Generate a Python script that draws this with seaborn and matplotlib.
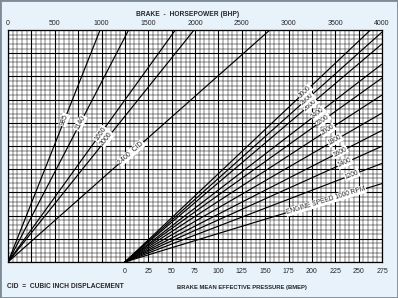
import numpy as np
import pandas as pd
import matplotlib
matplotlib.use("Agg")
import matplotlib.pyplot as plt
import seaborn as sns
from matplotlib.ticker import MultipleLocator, FuncFormatter
from matplotlib.patches import Rectangle

# ---------------- data ----------------
bhp_ticks = [0, 500, 1000, 1500, 2000, 2500, 3000, 3500, 4000]
bmep_ticks = [0, 25, 50, 75, 100, 125, 150, 175, 200, 225, 250, 275]

cid_values = [985, 1140, 1650, 2000, 2400]
cid_labels = ["985", "1140", "1650", "2000", "2400  CID"]
cid_top_bhp = [985, 1290, 1790, 1990, 2800]          # BHP where each CID line meets the top edge

rpm_values = [1000, 1200, 1400, 1600, 1800, 2000, 2200, 2400, 2600, 2800, 3000]
rpm_labels = ["ENGINE SPEED 1000 RPM", "1200", "1400", "1600", "1800", "2000",
              "2200", "2400", "2600", "2800", "3000"]
rpm_edge_y = [3.38, 4.25, 4.99, 5.67, 6.42, 7.20, 7.93, 8.53, 9.40, 9.91, 10.47]  # grid height at BMEP 275

# ---------------- layout constants ----------------
Y_TOP = 10.0
BMEP_ZERO_BHP = 1250.0     # BMEP 0 sits under BHP 1250
BHP_PER_BMEP = 10.0
cid_label_y = [6.12, 5.99, 5.52, 5.30, 4.70]
rpm_label_x = [3400, 3679, 3604, 3551, 3497, 3422, 3369, 3316, 3230, 3198, 3176]

sns.set_style("white")
plt.rcParams["font.family"] = ["Liberation Sans", "DejaVu Sans"]

W, H = 398, 298
fig = plt.figure(figsize=(W / 100, H / 100), dpi=100)
fig.patch.set_facecolor("#e8f2fb")
fig.add_artist(Rectangle((0, 0), 1, 1, transform=fig.transFigure, fill=False,
                         ec="#7d8a97", lw=2.0))

ax = fig.add_axes([8 / W, 1 - 262 / H, 374 / W, 232 / H])
ax.set_facecolor("white")
ax.set_xlim(0, 4000)
ax.set_ylim(0, Y_TOP)

# lines
rows = []
for v, xt in zip(cid_values, cid_top_bhp):
    rows.append(dict(x=0.0, y=0.0, line=f"cid{v}"))
    rows.append(dict(x=float(xt), y=Y_TOP, line=f"cid{v}"))
x_end = BMEP_ZERO_BHP + BHP_PER_BMEP * bmep_ticks[-1]
for r, ye in zip(rpm_values, rpm_edge_y):
    rows.append(dict(x=BMEP_ZERO_BHP, y=0.0, line=f"rpm{r}"))
    rows.append(dict(x=x_end, y=ye, line=f"rpm{r}"))
df = pd.DataFrame(rows)
sns.lineplot(data=df, x="x", y="y", units="line", estimator=None, sort=False,
             color="black", lw=0.85, ax=ax, legend=False, zorder=3)
ax.set_xlabel("")
ax.set_ylabel("")

# grid
ax.xaxis.set_major_locator(MultipleLocator(250))
ax.xaxis.set_minor_locator(MultipleLocator(50))
ax.yaxis.set_major_locator(MultipleLocator(1))
ax.yaxis.set_minor_locator(MultipleLocator(0.2))
ax.grid(which="major", color="black", lw=0.8)
ax.grid(which="minor", color="black", lw=0.35)
ax.set_axisbelow(True)
ax.xaxis.tick_top()
ax.xaxis.set_major_formatter(FuncFormatter(lambda v, p: f"{int(round(v))}" if int(round(v)) in bhp_ticks else ""))
ax.tick_params(axis="x", which="both", length=0, labelsize=5.0, pad=2.5)
ax.tick_params(axis="y", which="both", length=0, labelleft=False)
for s in ax.spines.values():
    s.set_color("black")
    s.set_linewidth(0.9)

sec = ax.secondary_xaxis("bottom", functions=(lambda x: (x - BMEP_ZERO_BHP) / BHP_PER_BMEP,
                                               lambda b: b * BHP_PER_BMEP + BMEP_ZERO_BHP))
sec.set_xticks(bmep_ticks)
sec.set_xticklabels([str(b) for b in bmep_ticks])
sec.tick_params(length=0, labelsize=5.0, pad=4)
sec.spines["bottom"].set_visible(False)

def screen_angle(x0, y0, x1, y1):
    p0 = ax.transData.transform((x0, y0))
    p1 = ax.transData.transform((x1, y1))
    return np.degrees(np.arctan2(p1[1] - p0[1], p1[0] - p0[0]))

box = dict(boxstyle="square,pad=0.1", fc="white", ec="none")
for lab, xt, yl in zip(cid_labels, cid_top_bhp, cid_label_y):
    ang = screen_angle(0, 0, xt, Y_TOP)
    ax.text(xt * yl / Y_TOP, yl, lab, rotation=ang, rotation_mode="anchor",
            ha="center", va="center", fontsize=5.0, zorder=5, bbox=box)

for lab, ye, xl in zip(rpm_labels, rpm_edge_y, rpm_label_x):
    ang = screen_angle(BMEP_ZERO_BHP, 0, x_end, ye)
    yl = ye * (xl - BMEP_ZERO_BHP) / (x_end - BMEP_ZERO_BHP)
    ax.text(xl, yl, lab, rotation=ang, rotation_mode="anchor",
            ha="center", va="center", fontsize=4.8, zorder=5, bbox=box, clip_on=True)

fig.text(188 / W, 1 - 15 / H, "BRAKE  -  HORSEPOWER (BHP)", ha="center", va="center",
         fontsize=4.8, fontweight="bold")
fig.text(7 / W, 1 - 287 / H, "CID  =  CUBIC INCH DISPLACEMENT", ha="left", va="center",
         fontsize=4.75, fontweight="bold")
fig.text(242 / W, 1 - 287 / H, "BRAKE MEAN EFFECTIVE PRESSURE (BMEP)", ha="center", va="center",
         fontsize=4.2, fontweight="bold")

fig.savefig("out.png", dpi=100, facecolor=fig.get_facecolor())
